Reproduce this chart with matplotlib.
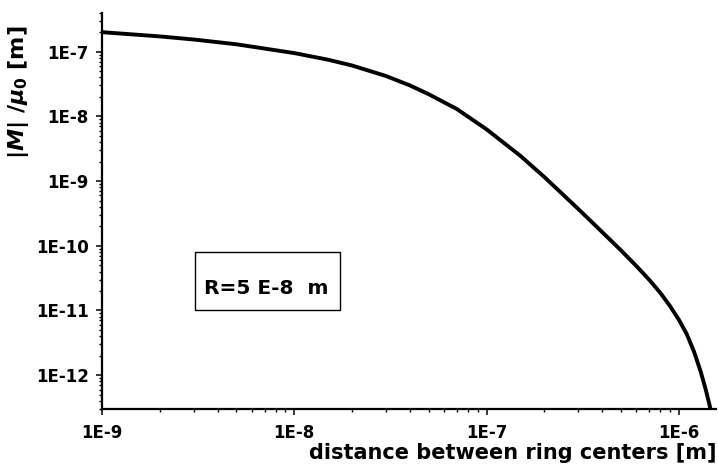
"""
Mutual inductance of two rings vs. distance between their centers (log-log)
"""
import matplotlib
matplotlib.use("Agg")
import matplotlib.pyplot as plt
from matplotlib.patches import Rectangle

# values
distance = [1e-9, 2e-9, 3e-9, 5e-9, 1e-8, 1.5e-8, 2e-8, 3e-8, 4e-8, 5e-8,
            7e-8, 1e-7, 1.5e-7, 2e-7, 3e-7, 4e-7, 5e-7, 6e-7, 7e-7, 8e-7,
            9e-7, 1e-6, 1.1e-6, 1.2e-6, 1.3e-6, 1.38e-6, 1.44e-6, 1.48e-6]
inductance = [2.0e-7, 1.72e-7, 1.54e-7, 1.3e-7, 9.5e-8, 7.5e-8, 6.1e-8, 4.2e-8,
              3.0e-8, 2.2e-8, 1.3e-8, 6.3e-9, 2.45e-9, 1.15e-9, 3.7e-10,
              1.62e-10, 8.5e-11, 4.9e-11, 3.0e-11, 1.88e-11, 1.17e-11, 7.2e-12,
              4.3e-12, 2.3e-12, 1.13e-12, 6e-13, 3.6e-13, 2.5e-13]

x_ticks = [1e-9, 1e-8, 1e-7, 1e-6]
x_ticklabels = ["1E-9", "1E-8", "1E-7", "1E-6"]
y_ticks = [1e-12, 1e-11, 1e-10, 1e-9, 1e-8, 1e-7]
y_ticklabels = ["1E-12", "1E-11", "1E-10", "1E-9", "1E-8", "1E-7"]

plt.rcParams["font.family"] = ["DejaVu Sans"]
plt.rcParams["font.weight"] = "bold"
plt.rcParams["mathtext.fontset"] = "custom"
plt.rcParams["mathtext.rm"] = "DejaVu Sans:bold"
plt.rcParams["mathtext.it"] = "DejaVu Sans:italic:bold"

fig = plt.figure(figsize=(7.18, 4.72), dpi=100)
ax = fig.add_axes([0.1421, 0.1335, 0.8558, 0.8396])

ax.plot(distance, inductance, color="black", linewidth=2.8)

ax.set_xscale("log")
ax.set_yscale("log")
ax.set_xlim(1e-9, 1.57e-6)
ax.set_ylim(3e-13, 4e-7)

ax.set_xticks(x_ticks)
ax.set_xticklabels(x_ticklabels)
ax.set_yticks(y_ticks)
ax.set_yticklabels(y_ticklabels)
ax.tick_params(which="major", direction="out", length=4.5, width=1.1,
               labelsize=12, pad=5)
ax.tick_params(which="minor", direction="out", length=2.5, width=1.0)
ax.tick_params(axis="x", which="major", pad=6)
ax.xaxis.set_minor_formatter(plt.NullFormatter())
ax.yaxis.set_minor_formatter(plt.NullFormatter())

for side in ["top", "right"]:
    ax.spines[side].set_visible(False)
for side in ["left", "bottom"]:
    ax.spines[side].set_linewidth(1.6)

ax.set_xlabel("distance between ring centers [m]", fontsize=15,
              fontweight="bold", loc="right")
ax.xaxis.set_label_coords(1.0, -0.085)
ax.set_ylabel(r"|$M$| /$\mu_0$ [m]", fontsize=16, fontweight="bold")
ax.yaxis.set_label_coords(-0.115, 0.80)

# annotation box
ax.add_patch(Rectangle((0.1515, 0.25), 0.235, 0.147, transform=ax.transAxes,
                       fill=False, edgecolor="black", linewidth=1.0))
ax.text(0.268, 0.305, "R=5 E-8  m", transform=ax.transAxes, fontsize=14.5,
        fontweight="bold", ha="center", va="center")

fig.savefig("out.png", dpi=100)
